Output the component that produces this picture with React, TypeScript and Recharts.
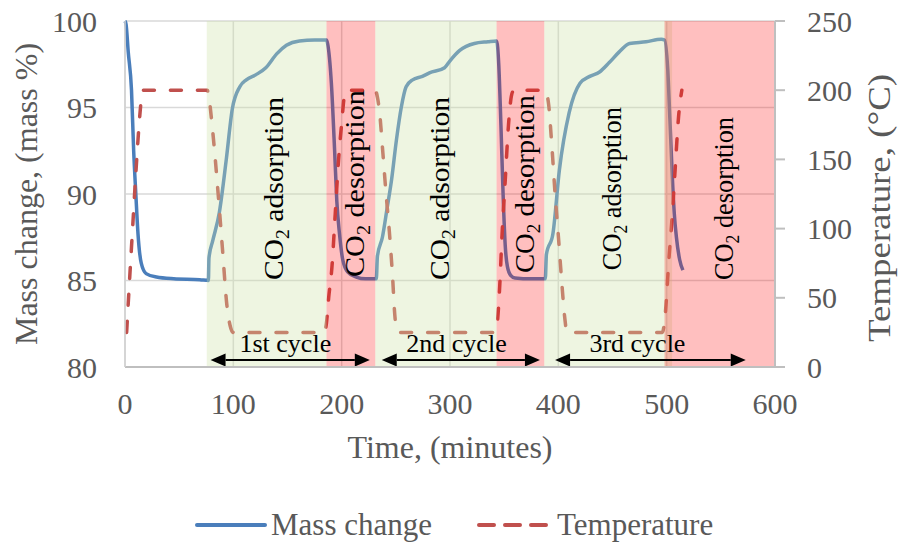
import React from "react";
import {
  CartesianGrid,
  Line,
  LineChart,
  ReferenceArea,
  ReferenceDot,
  ReferenceLine,
  XAxis,
  YAxis,
} from "recharts";

const FONT = "Liberation Serif, Times New Roman, serif";
const GREY = "#595959";

// mass change (left axis), time in minutes
const massTime = [
  0, 1, 3, 6, 8, 10, 12, 15, 19.5, 29, 45, 69, 77, 77.5, 81, 87, 93.5, 99, 106, 112, 121, 130, 140, 149,
  161, 175, 186, 187, 190.5, 193.5, 195.5, 198, 201, 205.5, 213.5, 222, 232, 233, 237.6, 242, 246, 250.5,
  255, 259.5, 265.5, 274.5, 281, 295, 300, 309, 322.5, 335, 343, 345, 347, 349, 351, 353, 356, 360, 375,
  388, 389, 395, 401, 410, 420, 429, 438, 447, 456, 465.7, 481, 495, 498, 501, 503, 505, 507, 509, 512, 515,
];
const massValue = [
  100, 99.8, 98.2, 96, 92.5, 90, 87.7, 86, 85.4, 85.2, 85.1, 85.05, 85.0, 86.3, 87.3, 88.9, 92, 94.9, 96.2,
  96.6, 96.9, 97.3, 98.1, 98.6, 98.85, 98.9, 98.9, 98.7, 96.4, 92.5, 89.6, 87.7, 86.2, 85.5, 85.2, 85.1,
  85.1, 86.4, 87.5, 89.2, 90.8, 93.1, 95, 96.2, 96.6, 96.8, 97, 97.3, 97.7, 98.3, 98.7, 98.8, 98.85, 97.5,
  94, 90, 87, 85.8, 85.3, 85.15, 85.1, 85.1, 86.5, 87.7, 91.4, 94.7, 96.4, 96.8, 97.05, 97.6, 98.2, 98.7,
  98.8, 98.95, 98.9, 97.2, 94.3, 91.3, 88.9, 87.5, 86.2, 85.6,
];

// temperature (right axis)
const tempTime = [
  1.5, 4, 7, 10, 13, 15, 17, 76, 77, 81, 86, 90, 94, 97, 100, 184, 186, 188, 191, 194, 197, 200, 203, 205,
  231, 233, 235, 238, 241, 244, 247, 249, 251, 253, 341, 343, 346, 348, 351, 354, 357, 359, 387, 389, 391,
  394, 397, 400, 403, 406, 408, 496, 499, 502, 505, 508, 511, 514,
];
const tempValue = [
  25, 60, 100, 140, 175, 193, 200, 200, 197, 170, 125, 85, 45, 30, 25, 25, 32, 50, 72, 110, 148, 176, 198,
  200, 200, 195, 184, 155, 125, 98, 65, 38, 26, 25, 25, 28, 60, 95, 135, 175, 197, 200, 200, 198, 190, 160,
  125, 95, 63, 35, 25, 25, 41, 77, 108, 145, 181, 200,
];

const timeTicks = [0, 100, 200, 300, 400, 500, 600];
const massTicks = [80, 85, 90, 95, 100];
const tempTicks = [0, 50, 100, 150, 200, 250];

const adsorptionStart = [75.5, 231, 387];
const adsorptionEnd = [186, 343, 505];
const desorptionStart = [186, 343, 498];
const desorptionEnd = [231, 387, 600];

const cycleNames = ["1st cycle", "2nd cycle", "3rd cycle"];
const cycleStart = [79, 237, 397];
const cycleEnd = [226, 383, 573];

const massData = massTime.map((t, i) => ({ t, m: massValue[i] }));
const tempData = tempTime.map((t, i) => ({ t, T: tempValue[i] }));

// placement of the in-plot notes
const phaseNotes = [
  { t: 146.3, y: 85.03, kind: "adsorption", len: 183 },
  { t: 220.2, y: 85.2, kind: "desorption", len: 187 },
  { t: 299.5, y: 85.03, kind: "adsorption", len: 183 },
  { t: 378, y: 85.43, kind: "desorption", len: 178 },
  { t: 458.3, y: 85.6, kind: "adsorption", len: 163 },
  { t: 560.8, y: 85.03, kind: "desorption", len: 163 },
];
const cycleLabelAt = [148, 306, 473];
const cycleArrowY = 80.4;
const cycleLabelY = 80.87;

const serif = { fontFamily: FONT };

function phaseLabel(p: any, kind: string, len: number) {
  const vb = p.viewBox;
  const x = vb.x + vb.width / 2;
  const y = vb.y + vb.height / 2;
  return (
    <text
      x={x}
      y={y}
      transform={`rotate(-90 ${x} ${y})`}
      style={serif}
      fontSize={27}
      fill="#000"
      textLength={len}
      lengthAdjust="spacingAndGlyphs"
    >
      CO
      <tspan fontSize={18} dy={6}>
        2
      </tspan>
      <tspan dy={-6}>{" " + kind}</tspan>
    </text>
  );
}

function cycleLabel(p: any, name: string) {
  const vb = p.viewBox;
  return (
    <text
      x={vb.x + vb.width / 2}
      y={vb.y + vb.height / 2}
      textAnchor="middle"
      style={serif}
      fontSize={26}
      fill="#000"
    >
      {name}
    </text>
  );
}

function ArrowShape(p: any) {
  const { x1, y1, x2 } = p;
  const head = 15;
  const half = 6.5;
  return (
    <g>
      <line x1={x1 + head} y1={y1} x2={x2 - head} y2={y1} stroke="#000" strokeWidth={2} />
      <polygon points={`${x1},${y1} ${x1 + head},${y1 - half} ${x1 + head},${y1 + half}`} fill="#000" />
      <polygon points={`${x2},${y1} ${x2 - head},${y1 - half} ${x2 - head},${y1 + half}`} fill="#000" />
    </g>
  );
}

function Legend() {
  const text = { style: serif, fontSize: 31, fill: GREY };
  return (
    <svg width={901} height={50} style={{ position: "absolute", left: 0, top: 500 }}>
      <line x1={197} y1={25} x2={265} y2={25} stroke="#4a7ebb" strokeWidth={4} strokeLinecap="round" />
      <text x={271} y={35} {...text}>
        Mass change
      </text>
      <line
        x1={479}
        y1={25}
        x2={548}
        y2={25}
        stroke="#c0504d"
        strokeWidth={4}
        strokeLinecap="round"
        strokeDasharray="15 11"
      />
      <text x={557} y={35} {...text}>
        Temperature
      </text>
    </svg>
  );
}

export default function App() {
  const tick = { fontFamily: FONT, style: serif, fontSize: 30, fill: GREY };
  return (
    <div
      style={{
        position: "absolute",
        left: 0,
        top: 0,
        width: 901,
        height: 545,
        background: "#fff",
        fontFamily: FONT,
      }}
    >
      <LineChart width={901} height={545} margin={{ top: 21, right: 40, bottom: 118, left: 40 }}>
        <CartesianGrid stroke="#d9d9d9" strokeWidth={1.5} yAxisId="left" />
        <XAxis
          dataKey="t"
          type="number"
          domain={[0, 600]}
          ticks={timeTicks}
          height={60}
          tick={tick}
          tickLine={false}
          tickSize={8}
          tickMargin={18}
          stroke="#bfbfbf"
          strokeWidth={2}
          label={(p: any) => (
            <text
              x={p.viewBox.x + p.viewBox.width / 2}
              y={p.viewBox.y + 91}
              textAnchor="middle"
              style={serif}
              fontSize={32}
              fill={GREY}
            >
              Time, (minutes)
            </text>
          )}
        />
        <YAxis
          yAxisId="left"
          domain={[80, 100]}
          ticks={massTicks}
          width={85}
          tick={tick}
          tickLine={false}
          tickSize={8}
          tickMargin={20}
          stroke="#d0d0d0"
          strokeWidth={1.5}
          label={(p: any) => {
            const x = p.viewBox.x - 3;
            const y = p.viewBox.y + p.viewBox.height / 2;
            return (
              <text
                x={x}
                y={y}
                transform={`rotate(-90 ${x} ${y})`}
                textAnchor="middle"
                style={serif}
                fontSize={32}
                fill={GREY}
              >
                Mass change, (mass %)
              </text>
            );
          }}
        />
        <YAxis
          yAxisId="right"
          orientation="right"
          domain={[0, 250]}
          ticks={tempTicks}
          width={86}
          tick={tick}
          tickSize={10}
          tickMargin={22}
          stroke="#bfbfbf"
          strokeWidth={2}
          label={(p: any) => {
            const x = p.viewBox.x + p.viewBox.width + 29;
            const y = p.viewBox.y + p.viewBox.height / 2 + 14;
            return (
              <text
                x={x}
                y={y}
                transform={`rotate(-90 ${x} ${y})`}
                textAnchor="middle"
                style={serif}
                fontSize={32}
                fill={GREY}
                textLength={268}
                lengthAdjust="spacingAndGlyphs"
              >
                Temperature, (°C)
              </text>
            );
          }}
        />
        <Line
          data={massData}
          dataKey="m"
          yAxisId="left"
          type="monotone"
          stroke="#4a7ebb"
          strokeWidth={3.5}
          dot={false}
          isAnimationActive={false}
        />
        <Line
          data={tempData}
          dataKey="T"
          yAxisId="right"
          type="monotone"
          stroke="#c0504d"
          strokeWidth={3.5}
          strokeDasharray="11 16"
          strokeLinecap="round"
          dot={false}
          isAnimationActive={false}
        />
        {adsorptionStart.map((s, i) => (
          <ReferenceArea
            key={"a" + i}
            x1={s}
            x2={adsorptionEnd[i]}
            yAxisId="left"
            fill="#cde1aa"
            fillOpacity={0.35}
            stroke="none"
            zIndex={450}
          />
        ))}
        {desorptionStart.map((s, i) => (
          <ReferenceArea
            key={"d" + i}
            x1={s}
            x2={desorptionEnd[i]}
            yAxisId="left"
            fill="#ff0000"
            fillOpacity={0.25}
            stroke="none"
            zIndex={450}
          />
        ))}
        {cycleNames.map((n, i) => (
          <ReferenceLine
            key={"c" + i}
            yAxisId="left"
            segment={[
              { x: cycleStart[i], y: cycleArrowY },
              { x: cycleEnd[i], y: cycleArrowY },
            ]}
            shape={ArrowShape}
            zIndex={460}
          />
        ))}
        {cycleNames.map((n, i) => (
          <ReferenceDot
            key={"cl" + i}
            x={cycleLabelAt[i]}
            y={cycleLabelY}
            yAxisId="left"
            r={1}
            fill="none"
            stroke="none"
            zIndex={470}
            label={(p: any) => cycleLabel(p, n)}
          />
        ))}
        {phaseNotes.map((a, i) => (
          <ReferenceDot
            key={"p" + i}
            x={a.t}
            y={a.y}
            yAxisId="left"
            r={1}
            fill="none"
            stroke="none"
            zIndex={470}
            label={(p: any) => phaseLabel(p, a.kind, a.len)}
          />
        ))}
      </LineChart>
      <Legend />
    </div>
  );
}
